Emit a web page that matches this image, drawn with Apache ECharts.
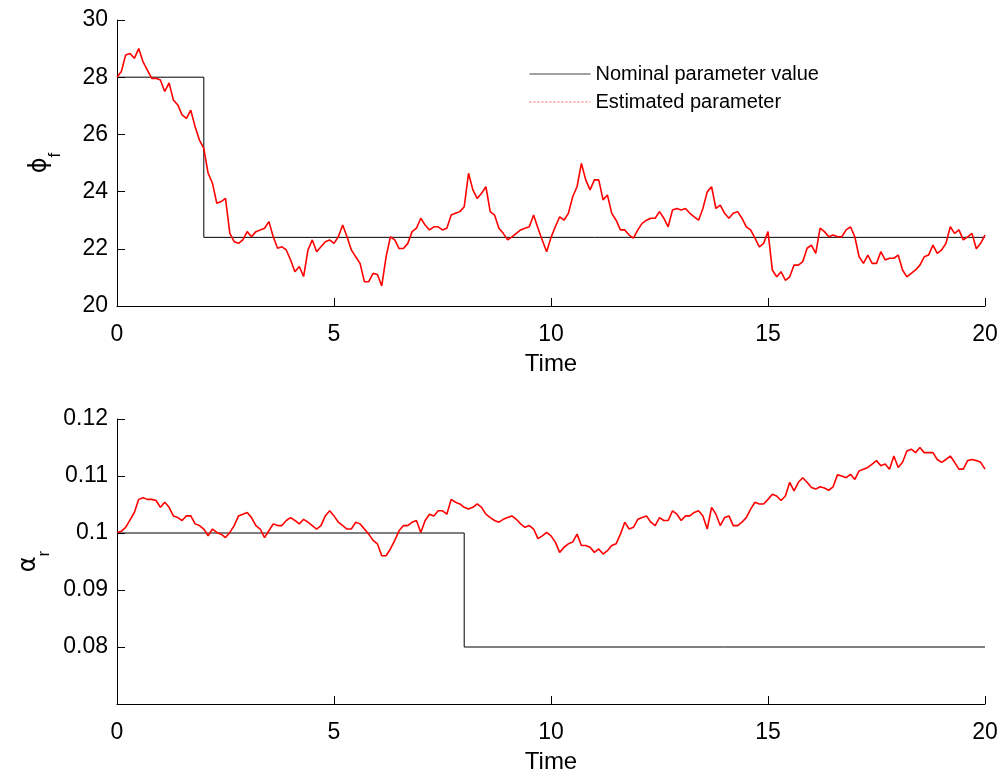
<!DOCTYPE html>
<html>
<head>
<meta charset="utf-8">
<script src="https://cdn.jsdelivr.net/npm/echarts@6/dist/echarts.min.js"></script>
<style>
  html, body { margin: 0; padding: 0; background: #fff; }
  #chart { width: 1005px; height: 778px; }
</style>
</head>
<body>
<div id="chart"></div>
<script>
// Sampling step of the estimated parameter traces (time units)
const timeStep = 0.1;

// Phi_f: nominal value (piecewise constant) and its running estimate
const phiNominalTimes = [0, 2, 20];
const phiNominalValues = [28, 22.4, 22.4];
const phiEstimate = [
  28.0, 28.2, 28.78, 28.83, 28.66, 29.0, 28.54, 28.25, 27.96, 27.96,
  27.9, 27.5, 27.8, 27.2, 27.03, 26.68, 26.56, 26.85, 26.27, 25.8,
  25.51, 24.64, 24.29, 23.59, 23.65, 23.76, 22.54, 22.25, 22.19, 22.31,
  22.6, 22.42, 22.6, 22.66, 22.72, 22.95, 22.42, 22.02, 22.07, 21.96,
  21.61, 21.2, 21.38, 21.03, 21.96, 22.31, 21.9, 22.07, 22.25, 22.31,
  22.19, 22.42, 22.83, 22.42, 21.96, 21.72, 21.49, 20.85, 20.85, 21.14,
  21.1, 20.7, 21.72, 22.42, 22.31, 22.01, 22.01, 22.19, 22.6, 22.72,
  23.07, 22.83, 22.66, 22.77, 22.77, 22.66, 22.72, 23.18, 23.24, 23.3,
  23.47, 24.64, 24.06, 23.76, 23.94, 24.17, 23.3, 23.18, 22.72, 22.54,
  22.31, 22.42, 22.54, 22.66, 22.72, 22.77, 23.18, 22.72, 22.3, 21.9,
  22.4, 22.77, 23.12, 23.0, 23.24, 23.82, 24.17, 24.99, 24.41, 24.06,
  24.41, 24.41, 23.71, 23.88, 23.24, 23.0, 22.66, 22.66, 22.48, 22.37,
  22.66, 22.89, 23.0, 23.07, 23.07, 23.3, 23.07, 22.77, 23.36, 23.41,
  23.36, 23.41, 23.24, 23.12, 23.0, 23.41, 23.99, 24.17, 23.41, 23.53,
  23.24, 23.07, 23.24, 23.3, 23.07, 22.77, 22.66, 22.37, 22.07, 22.19,
  22.6, 21.26, 21.02, 21.2, 20.9, 21.02, 21.43, 21.43, 21.55, 22.02,
  22.13, 21.84, 22.72, 22.6, 22.42, 22.48, 22.42, 22.42, 22.66, 22.77,
  22.42, 21.72, 21.49, 21.78, 21.49, 21.49, 21.9, 21.61, 21.67, 21.67,
  21.78, 21.26, 21.02, 21.14, 21.26, 21.43, 21.72, 21.78, 22.13, 21.84,
  21.96, 22.19, 22.77, 22.54, 22.66, 22.31, 22.42, 22.54, 22.0, 22.19,
  22.48
];

// Alpha_r: nominal value (piecewise constant) and its running estimate
const alphaNominalTimes = [0, 8, 20];
const alphaNominalValues = [0.1, 0.08, 0.08];
const alphaEstimate = [
  0.1001, 0.1003, 0.1010, 0.1023, 0.1036, 0.1059, 0.1062, 0.1059, 0.1059, 0.1057,
  0.1045, 0.1054, 0.1045, 0.1030, 0.1027, 0.1022, 0.1030, 0.1030, 0.1016, 0.1013,
  0.1007, 0.0995, 0.1007, 0.1001, 0.0998, 0.0992, 0.1001, 0.1013, 0.1030, 0.1033,
  0.1036, 0.1027, 0.1013, 0.1007, 0.0992, 0.1004, 0.1016, 0.1013, 0.1013, 0.1022,
  0.1027, 0.1022, 0.1016, 0.1024, 0.1019, 0.1013, 0.1007, 0.1013, 0.1030, 0.1039,
  0.1030, 0.1019, 0.1013, 0.1007, 0.1007, 0.1019, 0.1016, 0.1007, 0.0998, 0.0987,
  0.0981, 0.0960, 0.0960, 0.0972, 0.0987, 0.1004, 0.1013, 0.1013, 0.1019, 0.1022,
  0.1001, 0.1022, 0.1033, 0.1030, 0.1039, 0.1039, 0.1033, 0.1059, 0.1054, 0.1051,
  0.1045, 0.1042, 0.1045, 0.1051, 0.1045, 0.1033, 0.1027, 0.1022, 0.1019, 0.1024,
  0.1027, 0.1030, 0.1024, 0.1016, 0.1010, 0.1013, 0.1007, 0.0990, 0.0995, 0.1001,
  0.0995, 0.0984, 0.0966, 0.0975, 0.0981, 0.0984, 0.0998, 0.0978, 0.0978, 0.0975,
  0.0966, 0.0972, 0.0963, 0.0969, 0.0978, 0.0981, 0.0998, 0.1019, 0.1007, 0.1010,
  0.1024, 0.1027, 0.1030, 0.1019, 0.1013, 0.1027, 0.1022, 0.1022, 0.1039, 0.1033,
  0.1022, 0.1030, 0.1030, 0.1036, 0.1039, 0.1030, 0.1007, 0.1045, 0.1033, 0.1013,
  0.1027, 0.1030, 0.1013, 0.1013, 0.1019, 0.1027, 0.1042, 0.1054, 0.1051, 0.1051,
  0.1059, 0.1068, 0.1065, 0.1057, 0.1065, 0.1089, 0.1074, 0.1089, 0.1097, 0.1089,
  0.1080, 0.1077, 0.1081, 0.1079, 0.1075, 0.1081, 0.1102, 0.1100, 0.1097, 0.1103,
  0.1094, 0.1109, 0.1112, 0.1115, 0.1121, 0.1127, 0.1118, 0.1121, 0.1112, 0.1135,
  0.1115, 0.1124, 0.1144, 0.1147, 0.1141, 0.1150, 0.1141, 0.1141, 0.1141, 0.1129,
  0.1124, 0.1129, 0.1135, 0.1124, 0.1112, 0.1112, 0.1127, 0.1129, 0.1127, 0.1124,
  0.1112
];

// Axis ranges and tick spacing
const timeTicks = [0, 5, 10, 15, 20];
const phiTicks = [20, 22, 24, 26, 28, 30];
const alphaTicks = [0.07, 0.08, 0.09, 0.1, 0.11, 0.12];

const nominalName = 'Nominal parameter value';
const estimateName = 'Estimated parameter';

const FONT = "'Liberation Sans', Arial, Helvetica, sans-serif";

function pairs(times, values) {
  return times.map((t, i) => [t, values[i]]);
}
function sampled(values) {
  return values.map((v, i) => [Number((i * timeStep).toFixed(2)), v]);
}

function xAxisFor(gridIndex) {
  return {
    type: 'value', gridIndex,
    min: timeTicks[0], max: timeTicks[timeTicks.length - 1],
    interval: timeTicks[1] - timeTicks[0],
    name: 'Time', nameLocation: 'middle', nameGap: 46,
    nameTextStyle: { fontFamily: FONT, fontSize: 24, color: '#000' },
    axisLine: { show: true, onZero: false, lineStyle: { color: '#000', width: 1 } },
    axisTick: { show: true, inside: true, length: 8, lineStyle: { color: '#000' } },
    axisLabel: { fontFamily: FONT, fontSize: 23, color: '#000', margin: 17,
                 showMinLabel: true, showMaxLabel: true },
    splitLine: { show: false }
  };
}

function yAxisFor(gridIndex, ticks, name, fmt) {
  return {
    type: 'value', gridIndex,
    min: ticks[0], max: ticks[ticks.length - 1],
    interval: Number((ticks[1] - ticks[0]).toFixed(4)),
    name, nameLocation: 'middle', nameGap: 53, nameRotate: 90,
    nameTextStyle: {
      color: '#000',
      rich: {
        g: { fontFamily: "'DejaVu Sans', " + FONT, fontSize: 24, color: '#000',
             lineHeight: 36, verticalAlign: 'top' },
        s: { fontFamily: FONT, fontSize: 17, color: '#000',
             lineHeight: 36, verticalAlign: 'bottom' }
      }
    },
    axisLine: { show: true, onZero: false, lineStyle: { color: '#000', width: 1 } },
    axisTick: { show: true, inside: true, length: 8, lineStyle: { color: '#000' } },
    axisLabel: { fontFamily: FONT, fontSize: 23, color: '#000', margin: 9, formatter: fmt },
    splitLine: { show: false }
  };
}

const chart = echarts.init(document.getElementById('chart'), null, { renderer: 'canvas' });

chart.setOption({
  backgroundColor: '#fff',
  animation: false,
  legend: {
    show: true,
    left: 524, top: 59, orient: 'vertical',
    itemWidth: 61, itemHeight: 10, itemGap: 8,
    selectedMode: false,
    textStyle: { fontFamily: FONT, fontSize: 20, color: '#000' },
    data: [
      { name: nominalName, itemStyle: { opacity: 0 }, lineStyle: { color: '#444', width: 1 } },
      { name: estimateName, itemStyle: { opacity: 0 }, lineStyle: { color: '#ff6060', width: 1, type: [2, 2] } }
    ]
  },
  grid: [
    { left: 117, top: 20, width: 868, height: 286 },
    { left: 117, top: 419, width: 868, height: 285 }
  ],
  xAxis: [xAxisFor(0), xAxisFor(1)],
  yAxis: [
    yAxisFor(0, phiTicks, '{g|ϕ}{s|f}', v => String(v)),
    yAxisFor(1, alphaTicks, '{g|α}{s|r}',
      v => (Math.abs(v - alphaTicks[0]) < 1e-9 ? '' : String(Number(v.toFixed(2)))))
  ],
  series: [
    {
      name: nominalName, type: 'line', xAxisIndex: 0, yAxisIndex: 0,
      data: pairs(phiNominalTimes, phiNominalValues), step: 'end',
      showSymbol: false, symbol: 'none',
      lineStyle: { color: '#000', width: 1 }, itemStyle: { color: '#000' }, z: 2
    },
    {
      name: estimateName, type: 'line', xAxisIndex: 0, yAxisIndex: 0,
      data: sampled(phiEstimate),
      showSymbol: false, symbol: 'none',
      lineStyle: { color: '#ff0000', width: 1.6 }, itemStyle: { color: '#ff0000' }, z: 3
    },
    {
      name: nominalName, type: 'line', xAxisIndex: 1, yAxisIndex: 1,
      data: pairs(alphaNominalTimes, alphaNominalValues), step: 'end',
      showSymbol: false, symbol: 'none',
      lineStyle: { color: '#000', width: 1 }, itemStyle: { color: '#000' }, z: 2
    },
    {
      name: estimateName, type: 'line', xAxisIndex: 1, yAxisIndex: 1,
      data: sampled(alphaEstimate),
      showSymbol: false, symbol: 'none',
      lineStyle: { color: '#ff0000', width: 1.6 }, itemStyle: { color: '#ff0000' }, z: 3
    }
  ]
});
</script>
</body>
</html>
